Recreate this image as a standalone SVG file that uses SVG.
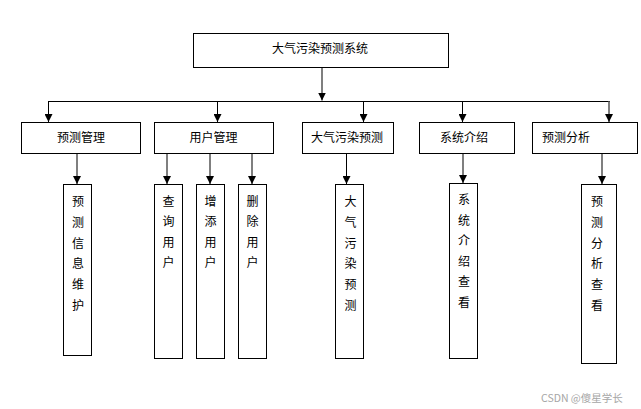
<svg xmlns="http://www.w3.org/2000/svg" width="641" height="409" viewBox="0 0 641 409">
<style>
.box{fill:#fff;stroke:#000;stroke-width:1}
.t{font-family:"Noto Sans CJK SC","Noto Sans",sans-serif;font-size:12px;fill:#000}
.c{text-anchor:middle}
.lk{stroke:#000;stroke-width:1;fill:none}
.lg{stroke:#7f7f7f;stroke-width:2;fill:none}
.wm{font-family:"Noto Sans CJK SC","Noto Sans",sans-serif;font-size:10.5px;fill:#a6a6a6}
</style>
<defs>
<marker id="ah" markerUnits="userSpaceOnUse" markerWidth="8" markerHeight="8" refX="7" refY="3.5" orient="auto" viewBox="0 0 7 7">
<path d="M0,0 L7,3.5 L0,7 z" fill="#000"/>
</marker>
</defs>
<rect width="641" height="409" fill="#fff"/>
<g id="connectors">
<line class="lg" x1="322" y1="68" x2="322" y2="100.5" marker-end="url(#ah)"/>
<line class="lk" x1="48" y1="101.5" x2="610" y2="101.5"/>
<line class="lk" x1="48.5" y1="101.5" x2="48.5" y2="122" marker-end="url(#ah)"/>
<line class="lk" x1="217.5" y1="101.5" x2="217.5" y2="122" marker-end="url(#ah)"/>
<line class="lk" x1="363.5" y1="101.5" x2="363.5" y2="122" marker-end="url(#ah)"/>
<line class="lk" x1="462.5" y1="101.5" x2="462.5" y2="122" marker-end="url(#ah)"/>
<line class="lg" x1="609" y1="101.5" x2="609" y2="122" marker-end="url(#ah)"/>
<line class="lg" x1="77" y1="153.5" x2="77" y2="184" marker-end="url(#ah)"/>
<line class="lg" x1="167" y1="153.5" x2="167" y2="184" marker-end="url(#ah)"/>
<line class="lg" x1="210" y1="153.5" x2="210" y2="184" marker-end="url(#ah)"/>
<line class="lg" x1="252" y1="153.5" x2="252" y2="184" marker-end="url(#ah)"/>
<line class="lk" x1="346.5" y1="153.5" x2="346.5" y2="184" marker-end="url(#ah)"/>
<line class="lg" x1="463" y1="153.5" x2="463" y2="183" marker-end="url(#ah)"/>
<line class="lg" x1="602" y1="153.5" x2="602" y2="184" marker-end="url(#ah)"/>
</g>
<g id="root">
<rect class="box" x="193.5" y="33.5" width="255" height="34"/>
<text class="t c" x="320" y="52.5">大气污染预测系统</text>
</g>
<g id="n-yuceguanli">
<rect class="box" x="21.5" y="122.5" width="119" height="31"/>
<text class="t c" x="81" y="142">预测管理</text>
</g>
<g id="n-yonghuguanli">
<rect class="box" x="154.5" y="122.5" width="119" height="31"/>
<text class="t c" x="213.5" y="142">用户管理</text>
</g>
<g id="n-daqiwuran">
<rect class="box" x="302.5" y="122.5" width="91" height="31"/>
<text class="t" x="311" y="142">大气污染预测</text>
</g>
<g id="n-xitongjieshao">
<rect class="box" x="419.5" y="122.5" width="95" height="31"/>
<text class="t c" x="464" y="142">系统介绍</text>
</g>
<g id="n-yucefenxi">
<rect class="box" x="532.5" y="122.5" width="105" height="31"/>
<text class="t" x="542" y="142">预测分析</text>
</g>
<g id="n-yucexinxi">
<rect class="box" x="63.5" y="184.5" width="28" height="171"/>
<text class="t c"><tspan x="78" y="206.2">预</tspan><tspan x="78" dy="20.7">测</tspan><tspan x="78" dy="20.7">信</tspan><tspan x="78" dy="20.7">息</tspan><tspan x="78" dy="20.7">维</tspan><tspan x="78" dy="20.7">护</tspan></text>
</g>
<g id="n-chaxun">
<rect class="box" x="154.5" y="184.5" width="28" height="174"/>
<text class="t c"><tspan x="168.5" y="206.2">查</tspan><tspan x="168.5" dy="20.2">询</tspan><tspan x="168.5" dy="20.2">用</tspan><tspan x="168.5" dy="20.2">户</tspan></text>
</g>
<g id="n-zengtian">
<rect class="box" x="196.5" y="184.5" width="28" height="174"/>
<text class="t c"><tspan x="210.5" y="206.2">增</tspan><tspan x="210.5" dy="20.2">添</tspan><tspan x="210.5" dy="20.2">用</tspan><tspan x="210.5" dy="20.2">户</tspan></text>
</g>
<g id="n-shanchu">
<rect class="box" x="238.5" y="184.5" width="28" height="174"/>
<text class="t c"><tspan x="252.5" y="206.2">删</tspan><tspan x="252.5" dy="20.2">除</tspan><tspan x="252.5" dy="20.2">用</tspan><tspan x="252.5" dy="20.2">户</tspan></text>
</g>
<g id="n-daqi2">
<rect class="box" x="335.5" y="184.5" width="28" height="174"/>
<text class="t c"><tspan x="350.5" y="206.2">大</tspan><tspan x="350.5" dy="20.7">气</tspan><tspan x="350.5" dy="20.7">污</tspan><tspan x="350.5" dy="20.7">染</tspan><tspan x="350.5" dy="20.7">预</tspan><tspan x="350.5" dy="20.7">测</tspan></text>
</g>
<g id="n-xitong2">
<rect class="box" x="449.5" y="183.5" width="28" height="175"/>
<text class="t c"><tspan x="464" y="204">系</tspan><tspan x="464" dy="20.5">统</tspan><tspan x="464" dy="20.5">介</tspan><tspan x="464" dy="20.5">绍</tspan><tspan x="464" dy="20.5">查</tspan><tspan x="464" dy="20.5">看</tspan></text>
</g>
<g id="n-yucefenxi2">
<rect class="box" x="581.5" y="184.5" width="35" height="179"/>
<text class="t c"><tspan x="597" y="206.2">预</tspan><tspan x="597" dy="20.7">测</tspan><tspan x="597" dy="20.7">分</tspan><tspan x="597" dy="20.7">析</tspan><tspan x="597" dy="20.7">查</tspan><tspan x="597" dy="20.7">看</tspan></text>
</g>
<text class="wm" x="541" y="402">CSDN @傻星学长</text>
</svg>
